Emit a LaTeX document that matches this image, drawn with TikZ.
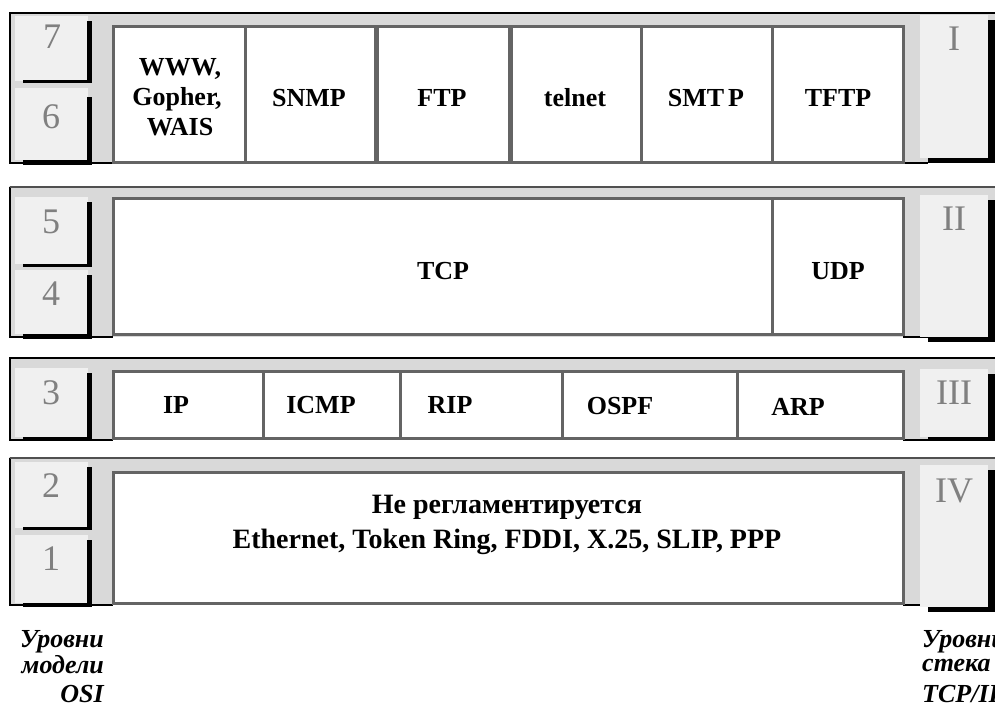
\documentclass[tikz,border=0pt]{standalone}
\usepackage{fontspec}
\setmainfont{Liberation Serif}
\definecolor{bandgrey}{HTML}{D9D9D9}
\definecolor{tabgrey}{HTML}{F0F0F0}
\definecolor{cellgrey}{HTML}{646464}
\definecolor{numgrey}{HTML}{808080}
\definecolor{topgrey}{HTML}{505050}
\tikzset{
  bandbg/.style={fill=bandgrey},
  tabbox/.style={fill=tabgrey},
  shade/.style={fill=black},
  cellbox/.style={draw=cellgrey, line width=3pt, fill=white},
  thickdiv/.style={draw=cellgrey, line width=5pt},
  edgeblack/.style={draw=black, line width=2pt},
  edgegrey/.style={draw=topgrey, line width=2pt},
  lbl/.style={font=\fontsize{26}{28}\selectfont\bfseries, inner sep=0pt, anchor=base},
  biglbl/.style={font=\fontsize{28}{30}\selectfont\bfseries, inner sep=0pt, anchor=base},
  num/.style={font=\fontsize{36}{36}\selectfont, text=numgrey, inner sep=0pt, anchor=center},
  note/.style={font=\fontsize{26}{28}\selectfont\bfseries\itshape, inner sep=0pt},
}
\begin{document}
\begin{tikzpicture}[x=1pt,y=-1pt]
\useasboundingbox (0,0) rectangle (995,704);
\fill[white] (0,0) rectangle (995,704);

% ---------------- Band 1 ----------------
\fill[bandbg] (9,12) rectangle (995,163);
\draw[edgeblack] (10,163) -- (10,13) -- (995,13);
\draw[edgeblack] (9,163) -- (113,163);
\draw[edgeblack] (903,163) -- (928,163);
\fill[tabbox] (15,16) rectangle (88,81);
\fill[shade] (87,21) rectangle (92,83);
\fill[shade] (23,80) rectangle (92,83);
\fill[tabbox] (15,88) rectangle (88,160);
\fill[shade] (87,97) rectangle (92,165);
\fill[shade] (23,160) rectangle (92,165);
\fill[tabbox] (920,15) rectangle (988,158);
\fill[shade] (988,20) rectangle (995,163);
\fill[shade] (928,158) rectangle (995,163);
\draw[cellbox] (113,26) rectangle (245,162);
\draw[cellbox] (245,26) rectangle (376,162);
\draw[cellbox] (376,26) rectangle (510,162);
\draw[cellbox] (510,26) rectangle (641,162);
\draw[cellbox] (641,26) rectangle (772,162);
\draw[cellbox] (772,26) rectangle (903,162);
\draw[thickdiv] (376,26) -- (376,162);
\draw[thickdiv] (510,26) -- (510,162);

\node[num] (n7) at (52,37) {7};
\node[num] (n6) at (51,117) {6};
\node[num] (r1) at (954,39) {I};
\node[lbl] (www) at (180,75) {WWW,};
\node[lbl] (gopher) at (177,105) {Gopher,};
\node[lbl] (wais) at (180,135) {WAIS};
\node[lbl] (snmp) at (309,106) {SNMP};
\node[lbl] (ftp) at (442,106) {FTP};
\node[lbl] (telnet) at (575,106) {telnet};
\node[lbl] (smtp) at (706,106) {SMT\kern4pt P};
\node[lbl] (tftp) at (838,106) {TFTP};

% ---------------- Band 2 ----------------
\fill[bandbg] (9,186) rectangle (995,337);
\draw[edgeblack] (10,337) -- (10,187);
\draw[edgegrey] (10,187) -- (995,187);
\draw[edgeblack] (9,337) -- (113,337);
\draw[edgeblack] (903,337) -- (928,337);
\fill[tabbox] (15,197) rectangle (88,264);
\fill[shade] (87,202) rectangle (92,267);
\fill[shade] (23,264) rectangle (92,267);
\fill[tabbox] (15,270) rectangle (88,334);
\fill[shade] (87,275) rectangle (92,339);
\fill[shade] (23,334) rectangle (92,339);
\fill[tabbox] (920,195) rectangle (988,337);
\fill[shade] (988,200) rectangle (995,342);
\fill[shade] (928,337) rectangle (995,342);
\draw[cellbox] (113,198) rectangle (772,334);
\draw[cellbox] (772,198) rectangle (903,334);

\node[num] (n5) at (51,222) {5};
\node[num] (n4) at (51,294) {4};
\node[num] (r2) at (954,219) {II};
\node[lbl] (tcp) at (443,279) {TCP};
\node[lbl] (udp) at (838,279) {UDP};

% ---------------- Band 3 ----------------
\fill[bandbg] (9,357) rectangle (995,440);
\draw[edgeblack] (10,440) -- (10,358) -- (995,358);
\draw[edgeblack] (9,440) -- (113,440);
\draw[edgeblack] (903,440) -- (928,440);
\fill[tabbox] (15,368) rectangle (88,437);
\fill[shade] (87,373) rectangle (92,441);
\fill[shade] (23,437) rectangle (92,441);
\fill[tabbox] (920,369) rectangle (988,437);
\fill[shade] (988,374) rectangle (995,441);
\fill[shade] (928,437) rectangle (995,441);
\draw[cellbox] (113,371) rectangle (263,438);
\draw[cellbox] (263,371) rectangle (400,438);
\draw[cellbox] (400,371) rectangle (562,438);
\draw[cellbox] (562,371) rectangle (737,438);
\draw[cellbox] (737,371) rectangle (903,438);

\node[num] (n3) at (51,393) {3};
\node[num] (r3) at (954,393) {III};
\node[lbl] (ip) at (176,413) {IP};
\node[lbl] (icmp) at (321,413) {ICMP};
\node[lbl] (rip) at (450,413) {RIP};
\node[lbl] (ospf) at (620,414) {OSPF};
\node[lbl] (arp) at (798,415) {ARP};

% ---------------- Band 4 ----------------
\fill[bandbg] (9,457) rectangle (995,605);
\draw[edgeblack] (10,605) -- (10,458);
\draw[edgegrey] (10,458) -- (995,458);
\draw[edgeblack] (9,605) -- (113,605);
\draw[edgeblack] (903,605) -- (928,605);
\fill[tabbox] (15,462) rectangle (88,528);
\fill[shade] (87,467) rectangle (92,530);
\fill[shade] (23,527) rectangle (92,530);
\fill[tabbox] (15,535) rectangle (88,603);
\fill[shade] (87,540) rectangle (92,607);
\fill[shade] (23,603) rectangle (92,607);
\fill[tabbox] (920,465) rectangle (988,607);
\fill[shade] (988,470) rectangle (995,612);
\fill[shade] (928,607) rectangle (995,612);
\draw[cellbox] (113,472) rectangle (903,603);

\node[num] (n2) at (51,486) {2};
\node[num] (n1) at (51,559) {1};
\node[num] (r4) at (954,491) {IV};
\node[biglbl] (noreg) at (507,513) {Не регламентируется};
\node[biglbl] (phys) at (507,548) {Ethernet, Token Ring, FDDI, X.25, SLIP, PPP};

% ---------------- Captions ----------------
\node[note, anchor=base east] (osi1) at (104,647) {Уровни};
\node[note, anchor=base east] (osi2) at (104,673) {модели};
\node[note, anchor=base east] (osi3) at (104,702) {OSI};
\node[note, anchor=base west] (tcp1) at (922,647) {Уровни};
\node[note, anchor=base west] (tcp2) at (922,671) {стека};
\node[note, anchor=base west] (tcp3) at (922,702) {TCP/IP};
\end{tikzpicture}
\end{document}
